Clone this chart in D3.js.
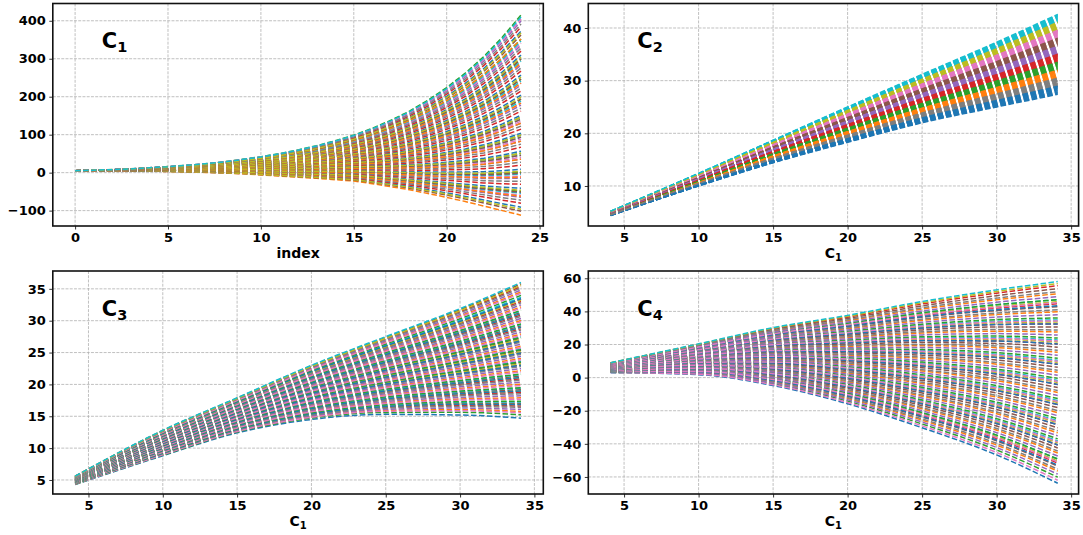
<!DOCTYPE html>
<html>
<head>
<meta charset="utf-8">
<script src="https://cdn.jsdelivr.net/npm/d3@7"></script>
<style>
body { margin: 0; background: #fff; }
svg { display: block; font-family: "DejaVu Sans", sans-serif; }
</style>
</head>
<body>
<svg id="canvas" width="1083" height="535"></svg>
<script>
var tab10 = ["#1f77b4", "#ff7f0e", "#2ca02c", "#d62728", "#9467bd",
	"#8c564b", "#e377c2", "#7f7f7f", "#bcbd22", "#17becf"];

// C1 against index (envelopes)
var indexVals = [0, 1, 2, 3, 4, 5, 6, 7, 8, 9, 10, 11, 12, 13, 14, 15, 16, 17, 18, 19, 20, 21, 22, 23, 24];
var c1Upper = [5, 6.5, 8, 10, 13, 16, 19.5, 23.5, 28.5, 35, 42, 50, 60, 71, 84, 99, 117, 138, 162, 191, 224, 262, 306, 357, 415];
var c1Lower = [5, 5, 5, 4.5, 4, 3, 2, 0.5, -1, -3, -6, -9, -12, -15, -18.5, -22, -29, -37, -45, -55, -65, -76, -88, -100, -112];
var c1Groups = [0, 0.095, 0.19, 0.28, 0.37, 0.46, 0.56, 0.66, 0.76, 0.88];
var c1Members = [0.04, 0.0, 0.12, 0.06, 0.09, 0.02, 0.1, 0.075, 0.03, 0.11];

// C2, C3, C4 against C1
var c1Samples = [4.1, 10, 15, 20, 25, 30, 34.1];

var c2Upper = [5.2, 12.4, 18.7, 25.0, 31.2, 37.3, 42.6];
var c2Lower = [4.4, 10.0, 14.4, 18.3, 22.0, 25.0, 27.4];
var c2Spread = [0, 0.011, 0.022, 0.033, 0.044, 0.056, 0.067, 0.078, 0.089, 0.1];
var c2Bands = [0.0, 0.2, 0.3, 0.4, 0.5, 0.6, 0.7, 0.1, 0.8, 0.9];

var c3Upper = [5.6, 12.8, 17.9, 23.0, 27.5, 31.9, 36.0];
var c3Lower = [4.3, 8.8, 12.4, 14.5, 15.3, 15.2, 14.7];
var c3Groups = [0, 0.1, 0.2, 0.3, 0.39, 0.48, 0.57, 0.67, 0.77, 0.88];
var c3Members = [0.0, 0.05, 0.025, 0.09, 0.065, 0.11, 0.04, 0.08, 0.1, 0.12];

var c4Upper = [9, 20.4, 30.2, 37.6, 46, 53, 58];
var c4Lower = [3, 1.8, -4.8, -15.8, -30.3, -46.7, -63.8];
var c4Groups = [0, 0.09, 0.19, 0.29, 0.39, 0.49, 0.59, 0.69, 0.79, 0.88];
var c4Members = [0.0, 0.06, 0.03, 0.1, 0.045, 0.085, 0.015, 0.07, 0.11, 0.12];

var xTicksIndex = [0, 5, 10, 15, 20, 25];
var xTicksC1 = [5, 10, 15, 20, 25, 30, 35];

const svg = d3.select('svg#canvas');

function buildLines(xs, lower, upper, outer, inner) {
	var lines = [];
	outer.forEach(function (a) {
		inner.forEach(function (b, bi) {
			var w = a + b;
			lines.push({
				c: tab10[bi],
				pts: xs.map(function (x, k) {
					return [x, lower[k] + w * (upper[k] - lower[k])];
				})
			});
		});
	});
	return lines;
}

var panels = [{
		left: 52.8, right: 543.3, top: 3.5, bottom: 226,
		xDomain: [-1.2, 25.2], yDomain: [-140.5, 445.5],
		xTicks: xTicksIndex, yTicks: [-100, 0, 100, 200, 300, 400],
		lines: buildLines(indexVals, c1Lower, c1Upper, c1Groups, c1Members),
		curve: d3.curveLinear, title: "1", xlabel: "index"
	},
	{
		left: 588.3, right: 1078.6, top: 3.5, bottom: 226,
		xDomain: [2.6, 35.5], yDomain: [2.4, 44.65],
		xTicks: xTicksC1, yTicks: [10, 20, 30, 40],
		lines: buildLines(c1Samples, c2Lower, c2Upper, c2Spread, c2Bands),
		curve: d3.curveMonotoneX, title: "2", xlabel: "C"
	},
	{
		left: 52.8, right: 543.3, top: 271, bottom: 494,
		xDomain: [2.6, 35.6], yDomain: [2.8, 37.8],
		xTicks: xTicksC1, yTicks: [5, 10, 15, 20, 25, 30, 35],
		lines: buildLines(c1Samples, c3Lower, c3Upper, c3Groups, c3Members),
		curve: d3.curveMonotoneX, title: "3", xlabel: "C"
	},
	{
		left: 588.3, right: 1078.6, top: 271, bottom: 494,
		xDomain: [2.6, 35.5], yDomain: [-70.3, 64.4],
		xTicks: xTicksC1, yTicks: [-60, -40, -20, 0, 20, 40, 60],
		lines: buildLines(c1Samples, c4Lower, c4Upper, c4Groups, c4Members),
		curve: d3.curveMonotoneX, title: "4", xlabel: "C"
	}
];

function fmt(d) {
	return String(d).replace("-", "\u2212");
}

function drawPanel(p) {
	var g = svg.append('g');
	var x = d3.scaleLinear().domain(p.xDomain).range([p.left, p.right]);
	var y = d3.scaleLinear().domain(p.yDomain).range([p.bottom, p.top]);

	// grid
	g.append('g').selectAll('line.gx').data(p.xTicks.filter(d => x(d) < p.right)).join('line')
		.attr('x1', d => x(d)).attr('x2', d => x(d))
		.attr('y1', p.top).attr('y2', p.bottom);
	g.append('g').selectAll('line.gy').data(p.yTicks).join('line')
		.attr('x1', p.left).attr('x2', p.right)
		.attr('y1', d => y(d)).attr('y2', d => y(d));
	g.selectAll('g line')
		.attr('stroke', '#b0b0b0').attr('stroke-width', 0.8)
		.attr('stroke-dasharray', '2.96,1.28');

	// dashed lines
	var line = d3.line().x(d => x(d[0])).y(d => y(d[1])).curve(p.curve);
	g.append('g').selectAll('path').data(p.lines).join('path')
		.attr('d', d => line(d.pts))
		.attr('fill', 'none')
		.attr('stroke', d => d.c)
		.attr('stroke-width', 1.5)
		.attr('stroke-dasharray', '5.55,2.4');

	// axes
	var ax = g.append('g').attr('transform', 'translate(0,' + p.bottom + ')')
		.call(d3.axisBottom(x).tickValues(p.xTicks).tickSize(3.5).tickPadding(3.5).tickFormat(fmt));
	var ay = g.append('g').attr('transform', 'translate(' + p.left + ',0)')
		.call(d3.axisLeft(y).tickValues(p.yTicks).tickSize(3.5).tickPadding(3.5).tickFormat(fmt));
	[ax, ay].forEach(function (a) {
		a.select('.domain').remove();
		a.attr('font-family', null).attr('font-size', null);
		a.selectAll('text').attr('font-size', 13).attr('font-weight', 'bold').attr('fill', '#000');
		a.selectAll('line').attr('stroke', '#000').attr('stroke-width', 0.8);
	});

	// frame
	g.append('rect')
		.attr('x', p.left).attr('y', p.top)
		.attr('width', p.right - p.left).attr('height', p.bottom - p.top)
		.attr('fill', 'none').attr('stroke', '#111').attr('stroke-width', 1.6);

	// panel title
	var t = g.append('text')
		.attr('x', p.left + 0.1 * (p.right - p.left))
		.attr('y', p.top + 0.2 * (p.bottom - p.top))
		.attr('font-weight', 'bold').attr('font-size', 21);
	t.append('tspan').text('C');
	t.append('tspan').attr('font-size', 14.5).attr('dy', 4).text(p.title);

	// x label
	var xl = g.append('text')
		.attr('x', (p.left + p.right) / 2)
		.attr('y', p.bottom + 32)
		.attr('text-anchor', 'middle')
		.attr('font-weight', 'bold').attr('font-size', 14);
	if (p.xlabel == 'index') {
		xl.text('index');
	} else {
		xl.append('tspan').text('C');
		xl.append('tspan').attr('font-size', 10).attr('dy', 3).text('1');
	}
}

panels.forEach(drawPanel);
</script>
</body>
</html>
